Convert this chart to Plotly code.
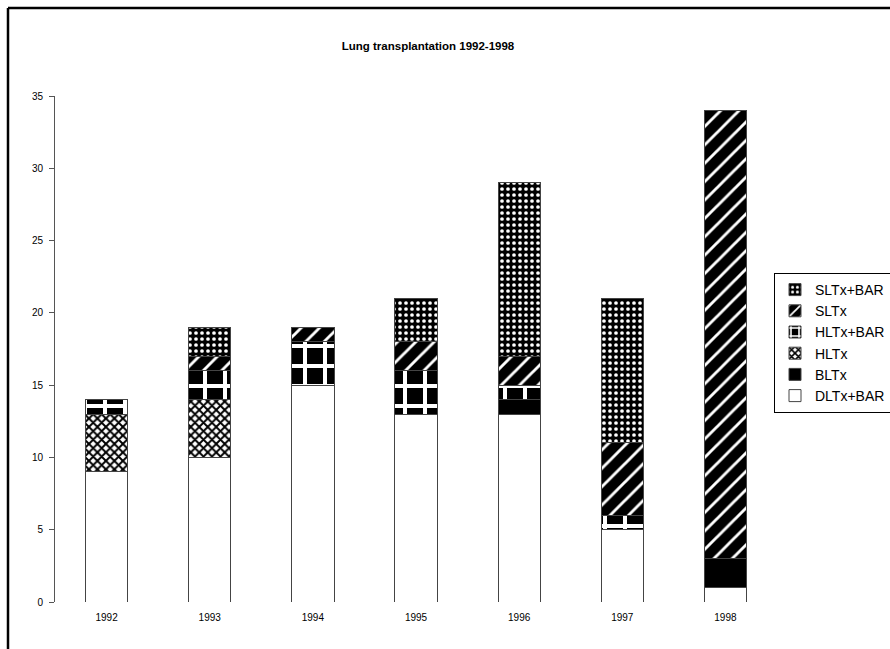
import plotly.graph_objects as go

# Transplants per year, by procedure (stack order bottom -> top)
years = ["1992", "1993", "1994", "1995", "1996", "1997", "1998"]
dltx_bar = [9, 10, 15, 13, 13, 5, 1]
bltx = [0, 0, 0, 0, 1, 0, 2]
hltx = [4, 4, 0, 0, 0, 0, 0]
hltx_bar = [1, 2, 3, 3, 1, 1, 0]
sltx = [0, 1, 1, 2, 2, 5, 31]
sltx_bar = [0, 2, 0, 3, 12, 10, 0]

series_names = ["DLTx+BAR", "BLTx", "HLTx", "HLTx+BAR", "SLTx", "SLTx+BAR"]
series_values = [dltx_bar, bltx, hltx, hltx_bar, sltx, sltx_bar]

# Monochrome fill patterns, one per procedure
def pat(shape, fg, bg, size, solidity):
    return dict(shape=shape, fgcolor=fg, bgcolor=bg, size=size, solidity=solidity,
                fillmode="overlay", fgopacity=1)

patterns = {
    "DLTx+BAR": dict(color="white", pattern=dict(shape="")),
    "BLTx": dict(color="black", pattern=dict(shape="")),
    "HLTx": dict(color="white", pattern=pat("x", "black", "white", 6, 0.55)),
    "HLTx+BAR": dict(color="black", pattern=pat("+", "white", "black", 20, 0.36)),
    "SLTx": dict(color="black", pattern=pat("/", "white", "black", 13, 0.22)),
    "SLTx+BAR": dict(color="black", pattern=pat(".", "white", "black", 6, 0.3)),
}

fig = go.Figure()
for name, vals in zip(series_names, series_values):
    style = patterns[name]
    fig.add_trace(go.Bar(
        x=years, y=vals, name=name,
        marker=dict(color=style["color"], pattern=style["pattern"],
                    line=dict(color="#444444", width=1)),
    ))

W, H = 890, 649
ml, mr, mt, mb = 55, 113, 96, 47
pw, ph = W - ml - mr, H - mt - mb

def px_x(x):
    return (x - ml) / pw

def px_y(y):
    return (H - mb - y) / ph

fig.update_layout(
    width=W, height=H,
    margin=dict(l=ml, r=mr, t=mt, b=mb, pad=0, autoexpand=False),
    barmode="stack",
    bargap=0.59,
    plot_bgcolor="white",
    paper_bgcolor="white",
    font=dict(family="Arial, Liberation Sans, sans-serif", color="black"),
    title=dict(text="<b>Lung transplantation 1992-1998</b>",
               font=dict(size=11.5, color="black"),
               x=428 / W, xref="container", xanchor="center",
               y=1 - 46 / H, yref="container", yanchor="middle"),
    xaxis=dict(showline=False, showgrid=False, zeroline=False, ticks="",
               tickfont=dict(family="Liberation Sans Narrow, Arial Narrow, Arial", size=10),
               ticklabelstandoff=8),
    yaxis=dict(range=[0, 35], dtick=5, tick0=0, showgrid=False, zeroline=False,
               showline=True, linecolor="#555555", linewidth=1,
               ticks="outside", ticklen=5, tickcolor="#555555",
               tickfont=dict(size=10), ticklabelstandoff=4),
    legend=dict(x=px_x(774), xanchor="left", y=px_y(273), yanchor="top",
                traceorder="reversed", bordercolor="black", borderwidth=1,
                bgcolor="white", font=dict(size=14), itemwidth=30,
                tracegroupgap=0),
    showlegend=True,
    shapes=[
        # outer frame (left and top edges)
        dict(type="line", xref="paper", yref="paper",
             x0=px_x(8), x1=px_x(8), y0=px_y(8), y1=px_y(H),
             line=dict(color="black", width=2.5)),
        dict(type="line", xref="paper", yref="paper",
             x0=px_x(8), x1=px_x(W), y0=px_y(8), y1=px_y(8),
             line=dict(color="black", width=2.5)),
    ],
)

fig.write_html("out.html", config={"displayModeBar": False})
